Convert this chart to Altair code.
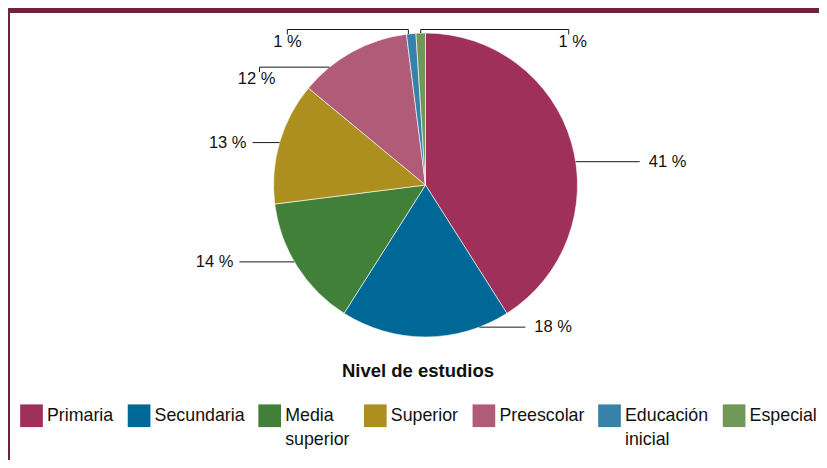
import math
import altair as alt
import pandas as pd

# ---- data ----
categories = ["Primaria", "Secundaria", "Media superior", "Superior",
              "Preescolar", "Educación inicial", "Especial"]
values = [41, 18, 14, 13, 12, 1, 1]
colors = ["#9e305a", "#006896", "#408038", "#ad8f20",
          "#b05c78", "#3882aa", "#709858"]
label_text = [f"{v} %" for v in values]

# ---- label layout hints (annotation placement, not data) ----
anchor_frac = [0.55, 0.18, 0.54, 0.50, 0.26, 0.20, 0.50]   # where the leader touches the slice
label_side = [1, 1, -1, -1, -1, -1, 1]
label_kind = ["side", "side", "side", "side", "bracket", "over", "over"]
lead_len = [64, 46, 55, 27, 70, 121, 148]

FONT = "Liberation Sans, Arial, sans-serif"
R = 152
W, H = 811, 452
CX, CY = 417.5, 177

total = sum(values)
df = pd.DataFrame({"idx": range(len(values)), "category": categories, "value": values})

segs, texts = [], []
cum = 0
for i, v in enumerate(values):
    a = 2 * math.pi * (cum + anchor_frac[i] * v) / total
    cum += v
    ax, ay = R * math.sin(a), -R * math.cos(a)
    s = label_side[i]
    L = lead_len[i]
    k = label_kind[i]
    if k == "side":
        segs.append(dict(x=ax, y=ay, x2=ax + s * L, y2=ay))
        texts.append(dict(x=ax + s * (L + (9 if s > 0 else 6)), y=ay, text=label_text[i],
                          align="left" if s > 0 else "right"))
    elif k == "bracket":
        ex = ax + s * L
        segs.append(dict(x=ax, y=ay, x2=ex, y2=ay))
        segs.append(dict(x=ex, y=ay, x2=ex, y2=ay + 5))
        texts.append(dict(x=ex - 3, y=ay + 12, text=label_text[i], align="center"))
    else:
        top = -(R + 3.5)
        ex = ax + s * L
        segs.append(dict(x=ax, y=ay, x2=ax, y2=top))
        segs.append(dict(x=ax, y=top, x2=ex, y2=top))
        segs.append(dict(x=ex, y=top, x2=ex, y2=top + 5))
        texts.append(dict(x=ex + (4 if s > 0 else 0), y=top + 12, text=label_text[i], align="center"))

seg_df = pd.DataFrame(segs)
txt_df = pd.DataFrame(texts)

xs = alt.Scale(domain=[-CX, W - CX], nice=False, zero=False)
ys = alt.Scale(domain=[-CY, H - CY], reverse=True, nice=False, zero=False)

legend = alt.Legend(
    title="Nivel de estudios", orient="none", legendX=12, legendY=354,
    direction="horizontal", columns=7, titleAnchor="middle",
    symbolType="square", symbolSize=515, symbolStrokeWidth=0,
    labelFont=FONT, labelFontSize=17.8, labelColor="#111111",
    titleFont=FONT, titleFontSize=18.5, titleFontWeight="bold", titleColor="#111111",
    titleLimit=600, columnPadding=13.6, labelOffset=4, titlePadding=23.4, padding=0, labelLimit=0,
    labelExpr="datum.label == 'Media superior' ? ['Media', 'superior'] : "
              "datum.label == 'Educación inicial' ? ['Educación', 'inicial'] : [datum.label, '']",
)

pie = alt.Chart(df).mark_arc(radius=R, stroke="white", strokeWidth=0.6).encode(
    theta=alt.Theta("value:Q", stack=True),
    order=alt.Order("idx:Q"),
    color=alt.Color("category:N", sort=categories,
                    scale=alt.Scale(domain=categories, range=colors), legend=legend),
    x=alt.XDatum(0, type="quantitative", scale=xs, axis=None),
    y=alt.YDatum(0, type="quantitative", scale=ys, axis=None),
)

rules = alt.Chart(seg_df).mark_rule(color="#1a1a1a", strokeWidth=1).encode(
    x=alt.X("x:Q", scale=xs, axis=None), y=alt.Y("y:Q", scale=ys, axis=None),
    x2="x2:Q", y2="y2:Q",
)

def text_layer(align):
    return alt.Chart(txt_df).transform_filter(alt.datum.align == align).mark_text(
        align=align, baseline="middle", font=FONT, fontSize=16.5, color="#111111"
    ).encode(
        x=alt.X("x:Q", scale=xs, axis=None), y=alt.Y("y:Q", scale=ys, axis=None),
        text="text:N",
    )

top_bar = alt.Chart(df).mark_rect(color="#6b2340").encode(
    x=alt.value(0), x2=alt.value(W), y=alt.value(0), y2=alt.value(5))
left_border = alt.Chart(df).mark_rule(color="#6b2340", strokeWidth=2).encode(
    x=alt.value(1), y=alt.value(0), y2=alt.value(H))

chart = alt.layer(
    pie, rules, text_layer("left"), text_layer("right"), text_layer("center"),
    top_bar, left_border,
).properties(width=W, height=H, autosize=alt.AutoSizeParams(type="none"), padding=0,
             background="white").configure(
    style={"guide-label": {"lineHeight": 24}}).configure_view(stroke=None)

chart.save("out.html", embed_options={"renderer": "svg", "actions": False})
